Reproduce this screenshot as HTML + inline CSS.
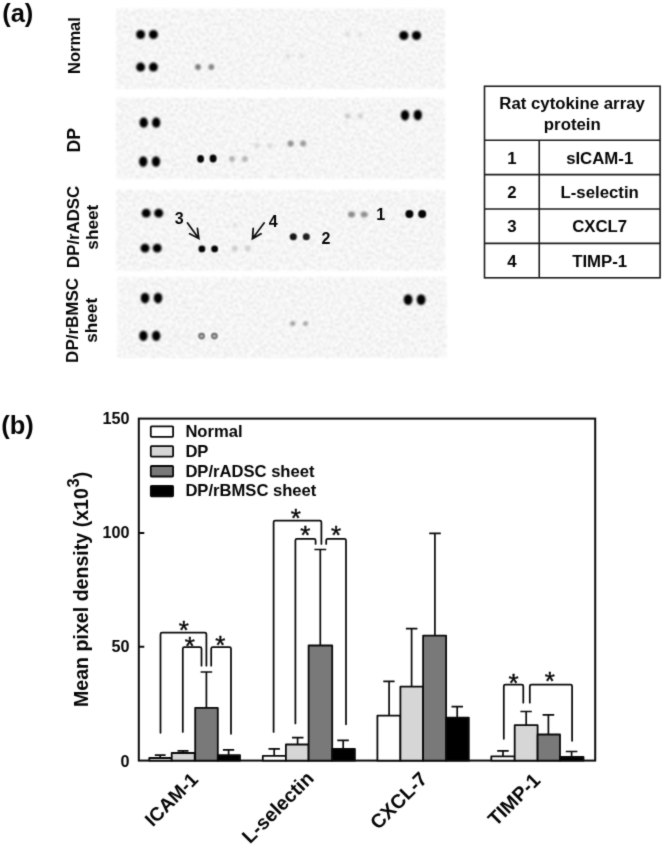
<!DOCTYPE html>
<html lang="en">
<head>
<meta charset="utf-8">
<title>Rat cytokine array</title>
<style>
  html, body { margin: 0; padding: 0; background: #ffffff; }
  body { width: 666px; height: 847px; overflow: hidden; }
  svg { display: block; }
  text { font-family: "Liberation Sans", Arial, Helvetica, sans-serif; font-weight: bold; fill: #050505; }
  .reg { font-weight: normal; }
</style>
</head>
<body>
<svg width="666" height="847" viewBox="0 0 666 847">
  <defs>
    <filter id="noise" x="-2%" y="-5%" width="104%" height="110%" color-interpolation-filters="sRGB">
      <feTurbulence type="fractalNoise" baseFrequency="0.42" numOctaves="2" seed="7" result="t"/>
      <feColorMatrix in="t" type="matrix" values="0.33 0 0 0 0.798  0.33 0 0 0 0.798  0.33 0 0 0 0.798  0 0 0 0 1" result="g"/>
      <feComposite in="g" in2="SourceGraphic" operator="in" result="c"/>
      <feGaussianBlur in="c" stdDeviation="0.8"/>
    </filter>
    <filter id="soft" x="-30%" y="-30%" width="160%" height="160%">
      <feGaussianBlur stdDeviation="0.85"/>
    </filter>
    <filter id="softer" x="-40%" y="-40%" width="180%" height="180%">
      <feGaussianBlur stdDeviation="1.0"/>
    </filter>
    <filter id="soft2" x="-40%" y="-40%" width="180%" height="180%" color-interpolation-filters="sRGB">
      <feConvolveMatrix order="3" kernelMatrix="1 2 1 2 4 2 1 2 1" divisor="16" edgeMode="none" preserveAlpha="false"/>
    </filter>
    <filter id="ring" x="-40%" y="-40%" width="180%" height="180%" color-interpolation-filters="sRGB">
      <feConvolveMatrix order="3" kernelMatrix="1 2 1 2 4 2 1 2 1" divisor="16" edgeMode="none" preserveAlpha="false"/>
    </filter>
    <filter id="txt" x="-2%" y="-2%" width="104%" height="104%" color-interpolation-filters="sRGB">
      <feConvolveMatrix order="3" kernelMatrix="1 4 1 4 26 4 1 4 1" divisor="46" edgeMode="none" preserveAlpha="false"/>
    </filter>
  </defs>
  <rect x="0" y="0" width="666" height="847" fill="#ffffff"/>

  <!-- ================= (a) blot panels ================= -->
  <g id="panels">
    <rect x="116"   y="8.6"   width="328.9" height="80.3" fill="#f3f3f3" filter="url(#noise)"/>
    <rect x="116"   y="97.8"  width="329.1" height="81.2" fill="#f3f3f3" filter="url(#noise)"/>
    <rect x="116"   y="189.9" width="329.3" height="80.6" fill="#f2f2f2" filter="url(#noise)"/>
    <rect x="117.5" y="277.1" width="329.1" height="80.8" fill="#f3f3f3" filter="url(#noise)"/>
  </g>

  <!-- panel 1 : Normal -->
  <g filter="url(#soft)" fill="#050505">
    <circle cx="140.6" cy="34.5" r="4.5"/><circle cx="153.4" cy="34.5" r="4.5"/>
    <circle cx="140.6" cy="67.1" r="4.5"/><circle cx="153.4" cy="67.1" r="4.5"/>
    <circle cx="403.8" cy="35.5" r="4.6"/><circle cx="416.5" cy="35.5" r="4.6"/>
  </g>
  <g filter="url(#softer)">
    <circle cx="198" cy="67" r="2.9" fill="#7d7d7d"/><circle cx="211.3" cy="67" r="2.9" fill="#858585"/>
    <circle cx="347.6" cy="34.5" r="2.6" fill="#e0e0e0"/><circle cx="360.4" cy="34.5" r="2.6" fill="#e4e4e4"/>
    <circle cx="288" cy="56" r="2.6" fill="#e0e0e0"/><circle cx="302" cy="56" r="2.6" fill="#e2e2e2"/>
  </g>

  <!-- panel 2 : DP -->
  <g filter="url(#soft)" fill="#050505">
    <ellipse cx="143.7" cy="122.7" rx="4.2" ry="5.1"/><ellipse cx="156.2" cy="122.7" rx="4.2" ry="5.1"/>
    <ellipse cx="143.2" cy="161.5" rx="4.2" ry="5.2"/><ellipse cx="156" cy="161.5" rx="4.2" ry="5.2"/>
    <ellipse cx="405" cy="115.3" rx="4.2" ry="5.2"/><ellipse cx="417.8" cy="115" rx="4.2" ry="5.2"/>
  </g>
  <g filter="url(#soft2)" fill="#050505">
    <ellipse cx="200.6" cy="158.9" rx="3.4" ry="3.8"/><ellipse cx="213.1" cy="158.4" rx="3.5" ry="4"/>
  </g>
  <g filter="url(#softer)">
    <circle cx="232" cy="159" r="2.9" fill="#b4b4b4"/><circle cx="244.8" cy="159" r="3" fill="#b8b8b8"/>
    <circle cx="257" cy="145.6" r="2.6" fill="#d9d9d9"/><circle cx="270" cy="145.6" r="2.6" fill="#dcdcdc"/>
    <circle cx="347.6" cy="116" r="2.7" fill="#cbcbcb"/><circle cx="360.4" cy="116" r="2.7" fill="#d2d2d2"/>
    <circle cx="290.7" cy="143.6" r="3.1" fill="#929292"/><circle cx="303.2" cy="143.6" r="3" fill="#9c9c9c"/>
  </g>

  <!-- panel 3 : DP/rADSC sheet -->
  <g filter="url(#soft)" fill="#050505">
    <ellipse cx="146.2" cy="213.2" rx="4.5" ry="4.4"/><ellipse cx="158.7" cy="213.2" rx="4.5" ry="4.4"/>
    <ellipse cx="145" cy="248.1" rx="4.5" ry="4.4"/><ellipse cx="157.2" cy="248.1" rx="4.5" ry="4.4"/>
  </g>
  <g filter="url(#soft2)" fill="#050505">
    <circle cx="409.4" cy="213.9" r="4"/><circle cx="422.2" cy="213.9" r="4"/>
    <circle cx="201.9" cy="248.9" r="3.4"/><circle cx="214.6" cy="248.9" r="3.4"/>
    <circle cx="293.3" cy="236.7" r="3.5" fill="#161616"/><circle cx="306.3" cy="236.7" r="3.5" fill="#202020"/>
  </g>
  <g filter="url(#softer)">
    <circle cx="234.8" cy="248.5" r="3" fill="#cfcfcf"/><circle cx="247.8" cy="248.5" r="3" fill="#d2d2d2"/>
    <ellipse cx="351.5" cy="214.5" rx="3.5" ry="2.9" fill="#8a8a8a"/><ellipse cx="364.2" cy="214.5" rx="3.5" ry="2.9" fill="#909090"/>
    <circle cx="235" cy="225" r="2.4" fill="#e2e2e2"/>
  </g>
  <g filter="url(#txt)">
    <text x="179.2" y="224.2" font-size="16" text-anchor="middle">3</text>
    <text x="273.3" y="226.6" font-size="16" text-anchor="middle">4</text>
    <text x="380.8" y="219.5" font-size="16" text-anchor="middle">1</text>
    <text x="326" y="243.8" font-size="16" text-anchor="middle">2</text>
    <g stroke="#111" stroke-width="1.8" fill="none" stroke-linecap="round" stroke-linejoin="miter">
      <path d="M187.5 223 L198.6 238.2 M189.6 233.8 L198.8 238.5 L197.4 228.3"/>
      <path d="M264.1 223 L252.7 238.3 M253.2 228.5 L252.5 238.7 L261 233.8"/>
    </g>
  </g>

  <!-- panel 4 : DP/rBMSC sheet -->
  <g filter="url(#soft)" fill="#050505">
    <ellipse cx="145" cy="298.1" rx="4.3" ry="5.3"/><ellipse cx="158" cy="298.1" rx="4.3" ry="5.3"/>
    <ellipse cx="143.4" cy="335.8" rx="4.2" ry="5.1"/><ellipse cx="156.2" cy="335.8" rx="4.2" ry="5.1"/>
    <ellipse cx="408.1" cy="299.6" rx="4.4" ry="5.4"/><ellipse cx="421.1" cy="299.6" rx="4.4" ry="5.4"/>
  </g>
  <g filter="url(#ring)" fill="#b4b4b4" stroke="#6a6a6a" stroke-width="1.6">
    <circle cx="201.6" cy="336.1" r="2.5"/><circle cx="214.4" cy="336.1" r="2.5"/>
  </g>
  <g filter="url(#softer)">
    <circle cx="292.8" cy="323.6" r="2.5" fill="#a0a0a0"/><circle cx="305.5" cy="323.6" r="2.5" fill="#a8a8a8"/>
    <circle cx="174.8" cy="335.8" r="2" fill="#e9e9e9"/><circle cx="189" cy="335.8" r="2" fill="#e9e9e9"/>
  </g>

  <!-- left labels -->
  <g filter="url(#txt)">
    <text x="2.2" y="22" font-size="25.5">(a)</text>
    <text transform="translate(80.3 45.6) rotate(-90)" font-size="16.5" text-anchor="middle">Normal</text>
    <text transform="translate(79.7 140.2) rotate(-90)" font-size="17.6" text-anchor="middle">DP</text>
    <text transform="translate(79.2 226.9) rotate(-90)" font-size="16.8" text-anchor="middle">DP/rADSC</text>
    <text transform="translate(98 227.2) rotate(-90)" font-size="17.2" text-anchor="middle">sheet</text>
    <text transform="translate(78.2 320.4) rotate(-90)" font-size="17" text-anchor="middle">DP/rBMSC</text>
    <text transform="translate(96.9 320.3) rotate(-90)" font-size="17.2" text-anchor="middle">sheet</text>
  </g>

  <!-- ================= table ================= -->
  <g filter="url(#txt)">
    <g stroke="#1c1c1c" stroke-width="1.6" fill="none">
      <rect x="484.5" y="86.25" width="175.6" height="191.55" fill="#ffffff"/>
      <path d="M484.5 140.2 H660.1 M484.5 174.6 H660.1 M484.5 209 H660.1 M484.5 243.4 H660.1 M539.25 140.2 V277.8"/>
    </g>
    <text x="572.1" y="109.4" font-size="16.8" text-anchor="middle">Rat cytokine array</text>
    <text x="572.3" y="130" font-size="16.8" text-anchor="middle">protein</text>
    <text x="511.8" y="163.6" font-size="16.8" text-anchor="middle">1</text>
    <text x="511.8" y="197.8" font-size="16.8" text-anchor="middle">2</text>
    <text x="511.8" y="232.1" font-size="16.8" text-anchor="middle">3</text>
    <text x="511.8" y="266.8" font-size="16.8" text-anchor="middle">4</text>
    <text x="599.7" y="163.6" font-size="16.8" text-anchor="middle">sICAM-1</text>
    <text x="599.7" y="197.8" font-size="16.8" text-anchor="middle">L-selectin</text>
    <text x="599.7" y="232.1" font-size="16.8" text-anchor="middle">CXCL7</text>
    <text x="599.7" y="266.8" font-size="16.8" text-anchor="middle">TIMP-1</text>
  </g>

  <!-- ================= (b) bar chart ================= -->
  <g id="chart" filter="url(#txt)">
    <text x="1.2" y="433.8" font-size="25.5">(b)</text>

    <!-- frame + ticks -->
    <g stroke="#0a0a0a" stroke-width="2" fill="none">
      <rect x="138.8" y="418.6" width="456.4" height="342"/>
      <path d="M138.8 533 H144.3 M138.8 646.8 H144.3"/>
    </g>
    <text x="129.4" y="424.3" font-size="16.2" text-anchor="end">150</text>
    <text x="129.4" y="537.9" font-size="16.2" text-anchor="end">100</text>
    <text x="129.4" y="651.9" font-size="16.2" text-anchor="end">50</text>
    <text x="129.4" y="766.5" font-size="16.2" text-anchor="end">0</text>
    <text transform="translate(88.1 589.4) rotate(-90)" font-size="19.6" text-anchor="middle">Mean pixel density (x10<tspan font-size="16.5" dy="-9.4" dx="0.6">3</tspan><tspan dy="9.4">)</tspan></text>

    <!-- legend -->
    <g stroke="#0a0a0a" stroke-width="1.8" stroke-linejoin="round">
      <rect x="150.8" y="426.3" width="22.3" height="10.5" rx="0.8" fill="#ffffff"/>
      <rect x="150.8" y="446.1" width="22.3" height="10.5" rx="0.8" fill="#d6d6d6"/>
      <rect x="150.8" y="466"   width="22.3" height="10.5" rx="0.8" fill="#797979"/>
      <rect x="150.8" y="485.8" width="22.3" height="10.5" rx="0.8" fill="#000000"/>
    </g>
    <text x="185.4" y="436.8" font-size="16.6">Normal</text>
    <text x="185.4" y="456.7" font-size="16.6">DP</text>
    <text x="185.4" y="476.5" font-size="16.6">DP/rADSC sheet</text>
    <text x="185.4" y="496.4" font-size="16.6">DP/rBMSC sheet</text>

    <!-- error bars (drawn under bars) -->
    <g stroke="#0a0a0a" stroke-width="1.7" fill="none">
      <!-- ICAM-1 -->
      <path d="M160.2 758 V755.1 M154.8 755.1 H165.6"/>
      <path d="M183 753 V750.8 M177.5 750.8 H188.5"/>
      <path d="M206.4 708 V672 M200.6 672 H212.2"/>
      <path d="M228.6 755 V749.8 M222.9 749.8 H234.2"/>
      <!-- L-selectin -->
      <path d="M274.2 756 V748.9 M268.5 748.9 H279.9"/>
      <path d="M297.6 744.5 V737.6 M292 737.6 H303.5"/>
      <path d="M320.3 645.5 V549.5 M314.4 549.5 H326.2"/>
      <path d="M343.2 749 V740.4 M337.3 740.4 H348.8"/>
      <!-- CXCL-7 -->
      <path d="M389.1 715.6 V681.4 M383.3 681.4 H394.6"/>
      <path d="M411.6 686.7 V628.6 M405.9 628.6 H417.4"/>
      <path d="M434.9 635.6 V533.3 M429.2 533.3 H440.8"/>
      <path d="M457.2 717.6 V706.7 M451.5 706.7 H463"/>
      <!-- TIMP-1 -->
      <path d="M503 756.4 V750.9 M497.2 750.9 H508.7"/>
      <path d="M526.2 725.2 V711.5 M520.4 711.5 H531.8"/>
      <path d="M548.4 734.5 V714.8 M542.6 714.8 H554.2"/>
      <path d="M571.6 757 V751.5 M565.8 751.5 H577.4"/>
    </g>

    <!-- bars -->
    <g stroke="#0a0a0a" stroke-width="1.8" stroke-linejoin="round">
      <!-- ICAM-1 -->
      <rect x="149.3" y="758"   width="22.4" height="2.7"  fill="#ffffff"/>
      <rect x="171.7" y="753"   width="23"   height="7.7"  fill="#d6d6d6"/>
      <rect x="195.2" y="707.9" width="22.6" height="52.8" fill="#797979"/>
      <rect x="217.8" y="755.1" width="22.2" height="5.6"  fill="#000000"/>
      <!-- L-selectin -->
      <rect x="262.8" y="755.9" width="23.1" height="4.8"   fill="#ffffff"/>
      <rect x="285.9" y="744.5" width="22.7" height="16.2"  fill="#d6d6d6"/>
      <rect x="308.6" y="645.5" width="23.6" height="115.2" fill="#797979"/>
      <rect x="332.2" y="748.9" width="22.7" height="11.8"  fill="#000000"/>
      <!-- CXCL-7 -->
      <rect x="377.4" y="715.6" width="23"   height="45.1"  fill="#ffffff"/>
      <rect x="400.4" y="686.7" width="22.7" height="74"    fill="#d6d6d6"/>
      <rect x="423.1" y="635.6" width="23"   height="125.1" fill="#797979"/>
      <rect x="446.1" y="717.6" width="22.7" height="43.1"  fill="#000000"/>
      <!-- TIMP-1 -->
      <rect x="491.3" y="756.4" width="23.4" height="4.3"  fill="#ffffff"/>
      <rect x="514.7" y="725.2" width="22.9" height="35.5" fill="#d6d6d6"/>
      <rect x="537.6" y="734.5" width="22.4" height="26.2" fill="#797979"/>
      <rect x="560"   y="757"   width="23.5" height="3.7"  fill="#000000"/>
    </g>

    <!-- significance brackets -->
    <g stroke="#0a0a0a" stroke-width="1.75" fill="none" stroke-linejoin="round" stroke-linecap="round">
      <path d="M160.5 732.8 V634.3000000000001 Q160.5 632.7 162.1 632.7 H204.8 Q206.4 632.7 206.4 634.3000000000001 V665.7"/>
      <path d="M182.8 731.9 V648.8000000000001 Q182.8 647.2 184.4 647.2 H199.9 Q201.5 647.2 201.5 648.8000000000001 V665.7"/>
      <path d="M211.2 665.7 V648.8000000000001 Q211.2 647.2 212.79999999999998 647.2 H229.4 Q231 647.2 231 648.8000000000001 V733.8"/>
      <path d="M273.6 731.9 V522.2 Q273.6 520.6 275.20000000000005 520.6 H319.79999999999995 Q321.4 520.6 321.4 522.2 V543.9"/>
      <path d="M295.4 723.4 V540.4 Q295.4 538.8 297.0 538.8 H314.0 Q315.6 538.8 315.6 540.4 V543.9"/>
      <path d="M326.2 543.9 V540.4 Q326.2 538.8 327.8 538.8 H344.4 Q346 538.8 346 540.4 V724.3"/>
      <path d="M503.8 738.8 V686.3000000000001 Q503.8 684.7 505.40000000000003 684.7 H521.6999999999999 Q523.3 684.7 523.3 686.3000000000001 V702.7"/>
      <path d="M529.8 702.7 V686.3000000000001 Q529.8 684.7 531.4 684.7 H570.5 Q572.1 684.7 572.1 686.3000000000001 V740.8"/>
    </g>
    <g font-size="26" class="reg" text-anchor="middle" stroke="#111" stroke-width="0.45">
      <text class="reg" x="183.8" y="639">*</text>
      <text class="reg" x="189.8" y="655">*</text>
      <text class="reg" x="220.4" y="654">*</text>
      <text class="reg" x="295.7" y="526.5">*</text>
      <text class="reg" x="305.4" y="544">*</text>
      <text class="reg" x="336" y="544">*</text>
      <text class="reg" x="513.6" y="691.5">*</text>
      <text class="reg" x="549.7" y="690">*</text>
    </g>

    <!-- x axis labels -->
    <g font-size="19.7" text-anchor="end">
      <text transform="translate(199.4 780.7) rotate(-45)" font-size="19.2">ICAM-1</text>
      <text transform="translate(315 779.5) rotate(-45)">L-selectin</text>
      <text transform="translate(428.6 780.2) rotate(-45)">CXCL-7</text>
      <text transform="translate(541.6 781.4) rotate(-45)">TIMP-1</text>
    </g>
  </g>
</svg>
</body>
</html>
